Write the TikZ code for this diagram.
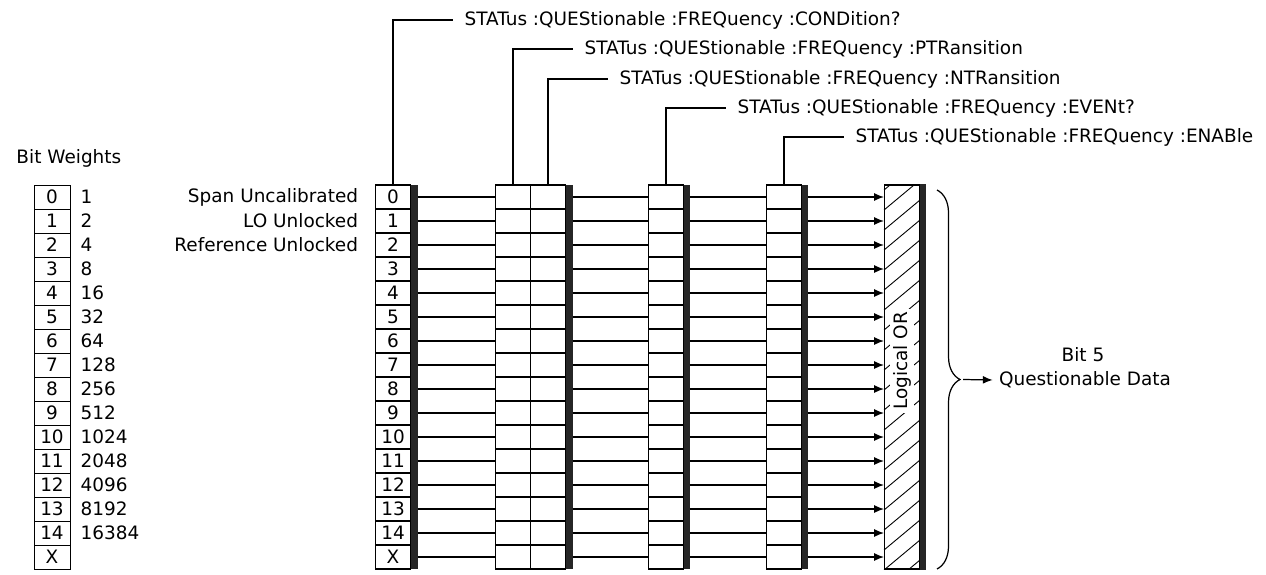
\documentclass[tikz,border=0pt]{standalone}
\usepackage{fontspec}
\setmainfont{DejaVu Sans}
\usetikzlibrary{arrows.meta,positioning,calc,decorations.pathreplacing}

\begin{document}
\begin{tikzpicture}[x=0.02cm,y=-0.02cm,>={Latex[length=5.5pt,width=4.5pt]},
  font=\fontsize{10.5}{12}\selectfont,line width=0.7pt,
  cell/.style={draw,minimum width=0.7cm,minimum height=0.48cm,inner sep=0pt,outer sep=0pt},
  wcell/.style={cell,minimum width=0.72cm,line width=0.5pt},
  shade/.style={fill=black!85,draw=none},
  lead/.style={anchor=west,inner xsep=0.22cm,inner ysep=1pt}]
  \useasboundingbox (0,0) rectangle (1266,574);
  % bit weights
  \node[anchor=west] (bw) at (10,158) {Bit Weights};
  \foreach \b/\w [count=\r from 0] in {0/1,1/2,2/4,3/8,4/16,5/32,6/64,7/128,8/256,9/512,10/1024,11/2048,12/4096,13/8192,14/16384,X/}
  {
    \node[wcell] (w\r) at (52,197+24*\r) {\b};
    \node[anchor=west,inner xsep=0.2cm] (v\r) at (w\r.east) {\w};
  }
  % registers
  \foreach \b [count=\r from 0] in {0,1,2,3,4,5,6,7,8,9,10,11,12,13,14,X}
  {
    \node[cell] (c\r) at (393,197+24*\r) {\b};
    \node[cell] (p\r) at (513,197+24*\r) {};
    \node[cell] (n\r) at (548,197+24*\r) {};
    \node[cell] (ev\r) at (666,197+24*\r) {};
    \node[cell] (en\r) at (784,197+24*\r) {};
  }
  \node[left=0.22cm of c0] {Span Uncalibrated};
  \node[left=0.22cm of c1] {LO Unlocked};
  \node[left=0.22cm of c2] {Reference Unlocked};
  \fill[shade] (c0.north east) rectangle ($(c15.south east)+(7,0)$);
  \fill[shade] (n0.north east) rectangle ($(n15.south east)+(7,0)$);
  \fill[shade] (ev0.north east) rectangle ($(ev15.south east)+(6,0)$);
  \fill[shade] (en0.north east) rectangle ($(en15.south east)+(6,0)$);
  % logical OR
  \node[draw,minimum width=0.7cm,minimum height=7.68cm,inner sep=0pt] (lor) at (902,377) {};
  \begin{scope}
    \clip (lor.south west) rectangle (lor.north east);
    \foreach \k in {0,...,21}
      \draw[line width=0.5pt] (884,190+20*\k) -- ++(36,-30);
  \end{scope}
  \fill[shade] (lor.north east) rectangle ($(lor.south east)+(6,0)$);
  \node[rotate=90,fill=white,inner sep=1.5pt] (lorl) at (902,361) {Logical OR};
  \foreach \r in {0,...,15}
  {
    \draw ($(c\r.east)+(7,0)$) -- (p\r.west);
    \draw ($(n\r.east)+(7,0)$) -- (ev\r.west);
    \draw ($(ev\r.east)+(6,0)$) -- (en\r.west);
    \draw[->] ($(en\r.east)+(6,0)$) -- (lor.west |- en\r);
  }
  % commands
  \node[lead] (t1) at (453,20) {STATus :QUEStionable :FREQuency :CONDition?};
  \node[lead] (t2) at (573,49) {STATus :QUEStionable :FREQuency :PTRansition};
  \node[lead] (t3) at (608,79) {STATus :QUEStionable :FREQuency :NTRansition};
  \node[lead] (t4) at (726,108) {STATus :QUEStionable :FREQuency :EVENt?};
  \node[lead] (t5) at (844,137) {STATus :QUEStionable :FREQuency :ENABle};
  \draw (c0.north) |- (t1.west);
  \draw (p0.north) |- (t2.west);
  \draw (n0.north) |- (t3.west);
  \draw (ev0.north) |- (t4.west);
  \draw (en0.north) |- (t5.west);
  % summary bit
  \coordinate (bt) at (937,190);
  \coordinate (bb) at (937,569);
  \draw[decorate,decoration={brace,amplitude=0.46cm}] (bt) -- (bb);
  \coordinate (tip) at (963,379.5);
  \node (qd) at (1085,380) {Questionable Data};
  \node (b5) at (1083,355) {Bit 5};
  \draw[->] (tip) -- (qd.west);
\end{tikzpicture}
\end{document}
